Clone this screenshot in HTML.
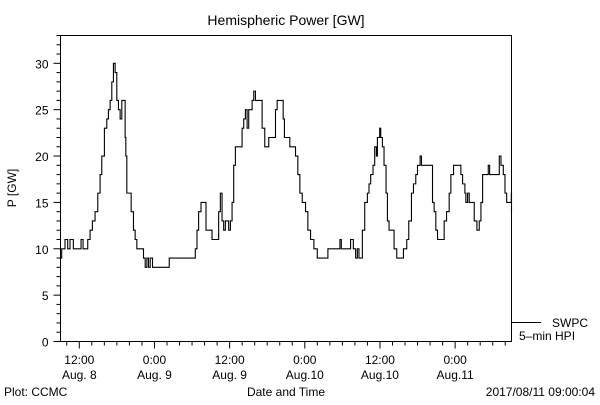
<!DOCTYPE html>
<html><head><meta charset="utf-8"><style>
body{margin:0;background:#fff}
svg text{font-family:"Liberation Sans",sans-serif;font-size:12px;fill:#000}
</style></head><body>
<svg id="chart" width="600" height="400" viewBox="0 0 600 400" xmlns="http://www.w3.org/2000/svg">
<rect width="600" height="400" fill="#fff"/>
<text x="286" y="25" text-anchor="middle" font-size="14" style="font-size:14px">Hemispheric Power [GW]</text>
<rect x="60.5" y="35.5" width="451" height="306" fill="none" stroke="#000" stroke-width="1"/>
<g id="axes"></g>
<path id="series" fill="none" stroke="#000" stroke-width="1.1"/>
<text transform="translate(16,188) rotate(-90)" text-anchor="middle">P [GW]</text>
<text x="286" y="396" text-anchor="middle">Date and Time</text>
<text x="4" y="396">Plot: CCMC</text>
<text x="595" y="396" text-anchor="end">2017/08/11 09:00:04</text>
<line x1="512" y1="322.5" x2="541" y2="322.5" stroke="#000"/>
<text x="552" y="327">SWPC</text>
<text x="519" y="340">5–min HPI</text>
</svg>
<script>
// hours since 2017-08-08 09:00 UT
const hours=[0,0.19,0.72,1.15,1.52,2.05,3.28,3.6,4.35,4.72,5.09,5.52,5.95,6.32,6.59,7.01,7.39,7.65,7.92,8.19,8.45,8.72,8.99,9.25,9.52,9.79,10.16,10.32,10.43,10.59,11.28,11.65,11.92,12.19,13.25,13.52,13.79,14.05,14.32,14.69,17.36,21.52,21.79,22.05,22.43,23.23,24.19,25.25,25.52,25.79,26.05,26.32,26.85,27.12,27.39,27.65,27.92,28.99,29.25,29.52,29.79,30.05,30.59,30.85,31.12,32.19,32.61,33.25,34.32,34.59,35.55,35.75,36.61,37.52,37.89,38.21,38.59,39.12,39.49,39.92,40.45,40.99,42.69,44.61,44.83,46.31,46.75,47.12,47.39,47.65,48.19,48.57,48.99,49.25,49.52,49.89,50.16,50.43,50.59,50.96,51.12,51.39,51.65,51.97,52.19,52.45,53.25,53.68,54.75,55.28,55.6,56.03,56.35,56.72,56.99,57.41,57.63,59.39,59.65,59.92,60.19,61.25,61.63,62.05,62.32,62.75,63.92,64.19,64.56,64.72,64.99,65.25,66.05,66.48,66.85,67.12,67.39,68.29,68.51,70.05,70.32,70.69,70.96,71.23,71.97,72];
const power=[9,10,11,10,11,10,11,10,11,12,13,14,16,18,20,23,24,25,26,28,30,29,26,25,24,26,26,22,20,16,14,12,11,10,9,8,9,8,9,8,9,10,12,14,15,12,11,14,16,13,12,13,12,13,15,19,21,23,24,25,23,25,26,27,26,23,21,22,25,26,24,22,21,20,18,16,15,14,12,11,10,9,10,11,10,11,10,9,10,9,12,15,16,17,18,19,21,20,22,23,22,21,19,16,13,12,10,9,10,11,13,16,17,18,19,20,19,15,14,12,11,13,14,16,18,19,18,17,16,15,16,15,13,12,13,15,18,19,18,20,19,18,16,15,16,14,14];
const yTicks=[0,5,10,15,20,25,30];
const xTickHours=[3,15,27,39,51,63];
const xTickTime=["12:00","0:00","12:00","0:00","12:00","0:00"];
const xTickDate=["Aug. 8","Aug. 9","Aug. 9","Aug.10","Aug.10","Aug.11"];
const NS="http://www.w3.org/2000/svg";
const X0=60.5,X1=511.5,Y0=341.5,Y1=35.5,TMAX=72,VMAX=33;
function xs(h){return X0+(h/TMAX)*(X1-X0);}
function ys(v){return Y0-(v/VMAX)*(Y0-Y1);}
const g=document.getElementById('axes');
function mk(tag,attrs){const e=document.createElementNS(NS,tag);for(const k in attrs)e.setAttribute(k,attrs[k]);g.appendChild(e);return e;}
for(let v=0;v<=VMAX;v++){
  const major=v%5===0;
  const t=mk('line',{x1:X0-(major?7:4),x2:X0,y1:ys(v),y2:ys(v),stroke:'#000'});
  
  
}
yTicks.forEach(v=>{
  const t=mk('text',{x:X0-12,y:ys(v)+5,'text-anchor':'end'});
  t.textContent=v;
  
  
});
for(let h=1;h<TMAX;h+=2){
  const major=xTickHours.includes(h);
  const t=mk('line',{x1:xs(h),x2:xs(h),y1:Y0,y2:Y0+(major?7:4),stroke:'#000'});
  
  
}
xTickHours.forEach((h,i)=>{
  const a=mk('text',{x:xs(h),y:364,'text-anchor':'middle'});
  a.textContent=xTickTime[i];
  
  
  const b=mk('text',{x:xs(h),y:379,'text-anchor':'middle'});
  b.textContent=xTickDate[i];
  
  
});
let d='M'+xs(hours[0])+','+ys(power[0]);
for(let i=1;i<hours.length;i++){d+='H'+xs(hours[i])+'V'+ys(power[i]);}
document.getElementById('series').setAttribute('d',d);
</script>
</body></html>
